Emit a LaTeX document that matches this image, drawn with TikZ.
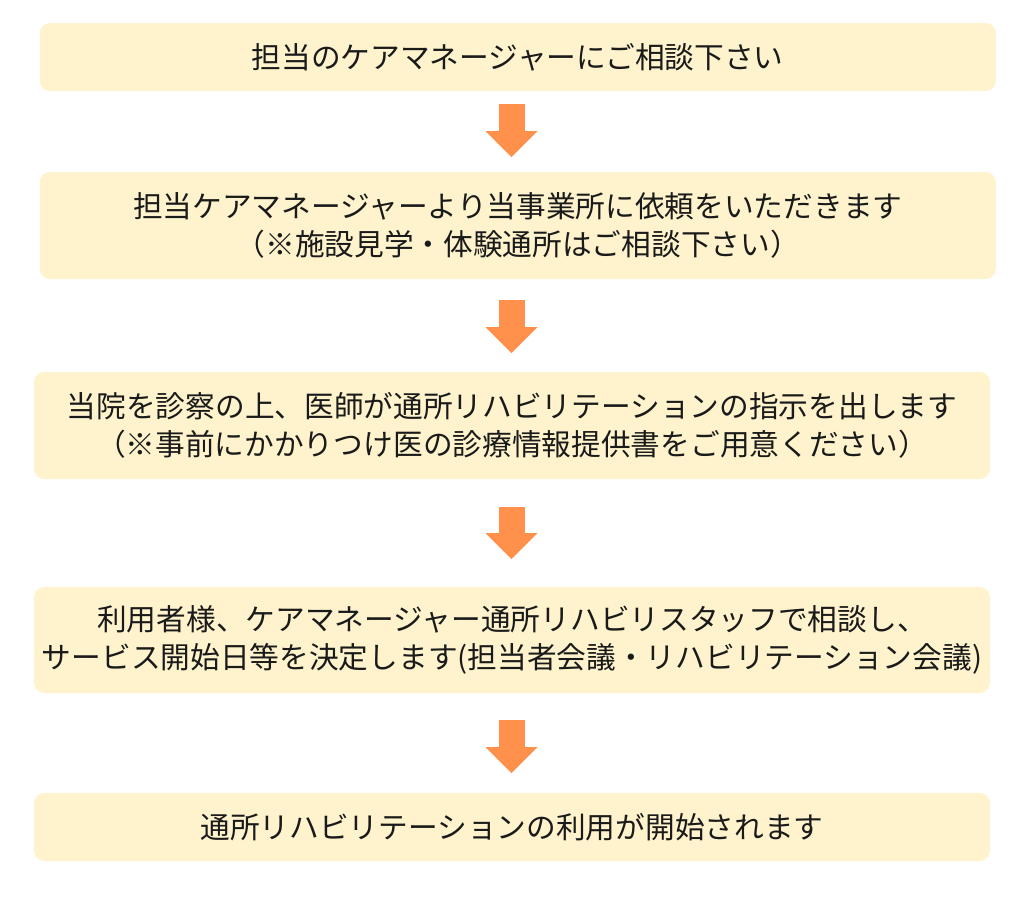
\documentclass[tikz,border=0pt]{standalone}
\usepackage{fontspec}
\newfontfamily\jpfont{Noto Sans CJK JP}
\usetikzlibrary{arrows.meta}
\definecolor{boxfill}{HTML}{FEF3CD}
\definecolor{arrowfill}{HTML}{FF914D}
\definecolor{textcol}{HTML}{1A1A1A}
\begin{document}
\begin{tikzpicture}
        \useasboundingbox (0,0) rectangle (20.48,-18.38);
        \begin{scope}[every node/.style={rectangle,rounded corners=0.2cm,fill=boxfill,text=textcol,align=center,inner sep=0pt,minimum width=19.12cm,minimum height=1.36cm,font=\jpfont\fontsize{16.9pt}{21.6pt}\selectfont}]
        \node (s1) at (10.355,-1.14) {担当のケアマネージャーにご相談下さい};
        \node[minimum height=2.14cm] (s2) at (10.355,-4.51) {担当ケアマネージャーより当事業所に依頼をいただきます\\（※施設見学・体験通所はご相談下さい）};
        \node[minimum height=2.14cm] (s3) at (10.24,-8.51) {当院を診察の上、医師が通所リハビリテーションの指示を出します\\（※事前にかかりつけ医の診療情報提供書をご用意ください）};
        \node[minimum height=2.12cm] (s4) at (10.24,-12.80) {利用者様、ケアマネージャー通所リハビリスタッフで相談し、\\サービス開始日等を決定します(担当者会議・リハビリテーション会議)};
        \node (s5) at (10.24,-16.54) {通所リハビリテーションの利用が開始されます};
        \end{scope}
        \begin{scope}[every edge/.style={draw=arrowfill,line width=0.52cm,-{Triangle[width=1.04cm,length=0.52cm,line width=0pt]}}]
        \coordinate (a1top) at (10.23,-2.08);
        \coordinate (a1tip) at (10.23,-3.14);
        \coordinate (a2top) at (10.23,-6.00);
        \coordinate (a2tip) at (10.23,-7.06);
        \coordinate (a3top) at (10.23,-10.14);
        \coordinate (a3tip) at (10.23,-11.18);
        \coordinate (a4top) at (10.23,-14.40);
        \coordinate (a4tip) at (10.23,-15.46);
        \path (a1top) edge (a1tip);
        \path (a2top) edge (a2tip);
        \path (a3top) edge (a3tip);
        \path (a4top) edge (a4tip);
        \end{scope}
\end{tikzpicture}
\end{document}
